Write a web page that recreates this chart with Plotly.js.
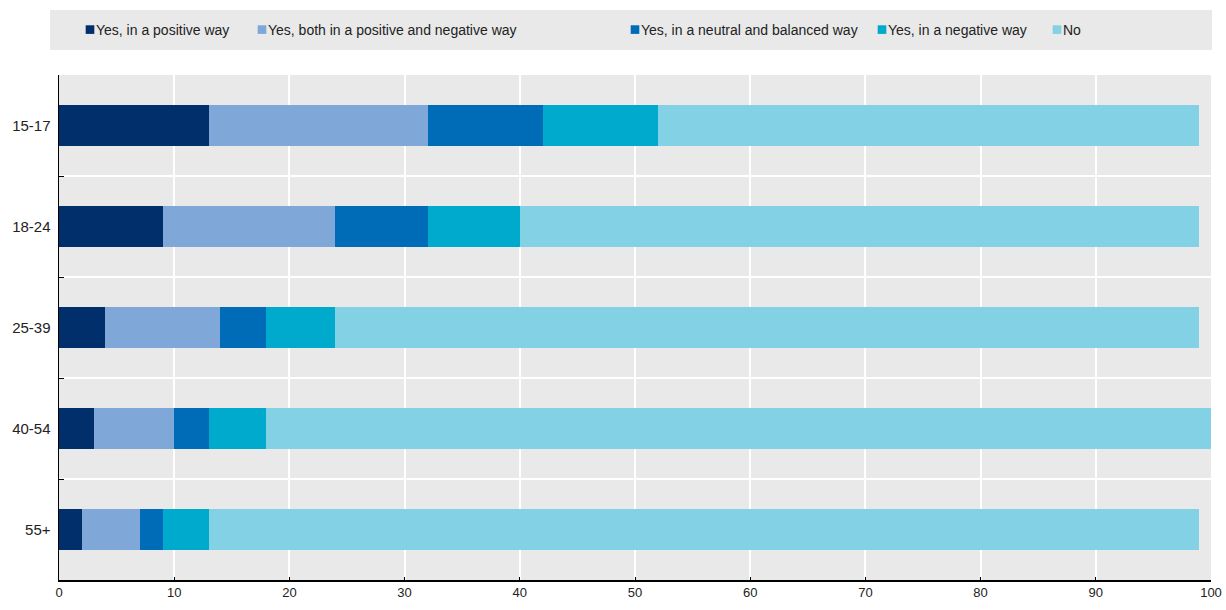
<!DOCTYPE html>
<html>
<head>
<meta charset="utf-8">
<script src="https://cdn.plot.ly/plotly-3.0.1.min.js"></script>
<style>body{margin:0;padding:0;background:#fff;}</style>
</head>
<body>
<div id="chart" style="width:1226px;height:610px;"></div>
<script>
const categories = ["15-17", "18-24", "25-39", "40-54", "55+"];
const seriesNames = ["Yes, in a positive way", "Yes, both in a positive and negative way", "Yes, in a neutral and balanced way", "Yes, in a negative way", "No"];
const positiveWay = [13, 9, 4, 3, 2];
const bothWays = [19, 15, 10, 7, 5];
const neutralWay = [10, 8, 4, 3, 2];
const negativeWay = [10, 8, 6, 5, 4];
const noValues = [47, 59, 75, 82, 86];
const colors = ["#002F6C", "#7FA8D9", "#006BB6", "#00AACC", "#82D1E4"];
const xTicks = [0, 10, 20, 30, 40, 50, 60, 70, 80, 90, 100];

const FONT = "'Liberation Sans', Arial, sans-serif";
const allSeries = [positiveWay, bothWays, neutralWay, negativeWay, noValues];
const legendX = [96, 268, 641, 888, 1063];
const plotL = 59, plotW = 1152;

const traces = allSeries.map((vals, i) => ({
  type: 'bar',
  orientation: 'h',
  name: seriesNames[i],
  x: vals,
  y: categories,
  marker: {color: colors[i], line: {width: 0}},
  legend: i === 0 ? 'legend' : 'legend' + (i + 1),
  hoverinfo: 'x+name'
}));

const layout = {
  width: 1226, height: 610,
  margin: {l: 59, r: 15, t: 75, b: 30},
  paper_bgcolor: '#ffffff',
  plot_bgcolor: '#E9E9E9',
  barmode: 'stack',
  bargap: 0.6,
  font: {family: FONT, size: 14, color: '#222222'},
  xaxis: {
    range: [0, 100],
    tickvals: xTicks,
    ticktext: xTicks.map(String),
    showgrid: true, gridcolor: '#ffffff', gridwidth: 2,
    showline: true, linecolor: '#000000', linewidth: 1.5,
    ticks: 'inside', ticklen: 3, tickcolor: '#000000', tickwidth: 1,
    tickfont: {family: FONT, size: 13, color: '#222222'},
    zeroline: false, fixedrange: true
  },
  yaxis: {
    type: 'category',
    autorange: 'reversed',
    tickson: 'boundaries',
    showgrid: true, gridcolor: '#ffffff', gridwidth: 2,
    showline: true, linecolor: '#000000', linewidth: 1.5,
    ticks: 'inside', ticklen: 5, tickcolor: '#000000', tickwidth: 1,
    tickfont: {family: FONT, size: 15, color: '#222222'},
    ticklabelstandoff: 4,
    zeroline: false, fixedrange: true
  },
  shapes: [{
    type: 'rect', xref: 'paper', yref: 'paper',
    x0: (50 - plotL) / plotW, x1: (1212 - plotL) / plotW,
    y0: 1 + (75 - 50) / 505, y1: 1 + (75 - 10) / 505,
    fillcolor: '#E9E9E9', line: {width: 0}, layer: 'below'
  }],
  showlegend: true
};

for (let i = 0; i < 5; i++) {
  const key = i === 0 ? 'legend' : 'legend' + (i + 1);
  layout[key] = {
    orientation: 'h',
    x: (legendX[i] - 40 - plotL) / plotW,
    xanchor: 'left',
    y: 1 + (75 - 30) / 505,
    yanchor: 'middle',
    bgcolor: 'rgba(0,0,0,0)',
    borderwidth: 0,
    itemwidth: 30,
    font: {family: FONT, size: 14, color: '#222222'},
    itemclick: false, itemdoubleclick: false
  };
}

function tightenLegendSymbols() {
  document.querySelectorAll('#chart .legendpoints path').forEach(p => {
    p.setAttribute('transform', 'translate(34,0) scale(0.72)');
  });
}

Plotly.newPlot('chart', traces, layout, {displayModeBar: false, staticPlot: true}).then(tightenLegendSymbols);
</script>
</body>
</html>
